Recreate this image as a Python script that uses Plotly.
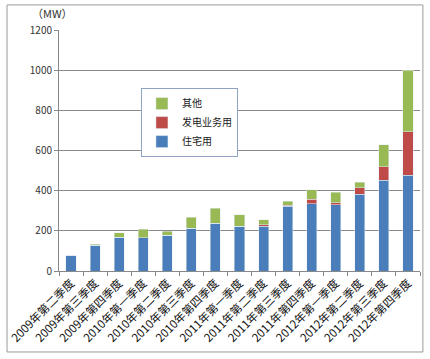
import plotly.graph_objects as go

categories = ["2009年第二季度", "2009年第三季度", "2009年第四季度",
              "2010年第一季度", "2010年第二季度", "2010年第三季度", "2010年第四季度",
              "2011年第一季度", "2011年第二季度", "2011年第三季度", "2011年第四季度",
              "2012年第一季度", "2012年第二季度", "2012年第三季度", "2012年第四季度"]
residential = [78, 127, 168, 165, 177, 213, 237, 223, 222, 322, 335, 330, 383, 452, 477]
power_business = [0, 0, 0, 0, 0, 0, 0, 0, 8, 5, 23, 10, 32, 68, 216]
other = [0, 6, 22, 43, 21, 54, 75, 57, 25, 20, 47, 52, 28, 108, 307]
y_ticks = [0, 200, 400, 600, 800, 1000, 1200]

font = "Noto Sans CJK SC, Microsoft YaHei, sans-serif"

fig = go.Figure()
fig.add_bar(x=categories, y=residential, name="住宅用", marker_color="#4A7EBB")
fig.add_bar(x=categories, y=power_business, name="发电业务用", marker_color="#BE4B48")
fig.add_bar(x=categories, y=other, name="其他", marker_color="#98B954")

fig.update_layout(
    width=430, height=359,
    barmode="stack", bargap=0.58,
    paper_bgcolor="white", plot_bgcolor="white",
    margin=dict(l=59, r=10, t=30, b=88),
    font=dict(family=font, size=11, color="#222"),
    showlegend=True,
    legend=dict(x=0.227, y=0.759, xanchor="left", yanchor="top",
                traceorder="reversed", bgcolor="white",
                bordercolor="#8EA4C0", borderwidth=1,
                font=dict(size=10, family=font), itemwidth=30,
                tracegroupgap=0),
    xaxis=dict(type="category", tickangle=-45, showline=True, linecolor="#888",
               ticks="outside", ticklen=4, tickcolor="#888", tickson="boundaries",
               automargin=False,
               tickfont=dict(size=11.5, family=font, color="#111")),
    yaxis=dict(range=[0, 1200], tickvals=y_ticks, showline=True, linecolor="#888",
               ticks="outside", ticklen=4, tickcolor="#888", automargin=False,
               showgrid=True, gridcolor="#8a8a8a", gridwidth=1, zeroline=False,
               tickfont=dict(size=10, family=font, color="#333")),
)

fig.add_shape(type="rect", xref="paper", yref="paper",
              x0=-0.144, x1=1.008, y0=-0.336, y1=1.104,
              line=dict(color="#9a9a9a", width=1), layer="below")
fig.add_annotation(text="（MW）", xref="paper", yref="paper", x=-0.08, y=1.03,
                   xanchor="left", yanchor="bottom", showarrow=False,
                   font=dict(size=11, family=font, color="#333"))

fig.write_html("out.html", config={"displayModeBar": False},
               post_script="document.body.style.margin='0';")
